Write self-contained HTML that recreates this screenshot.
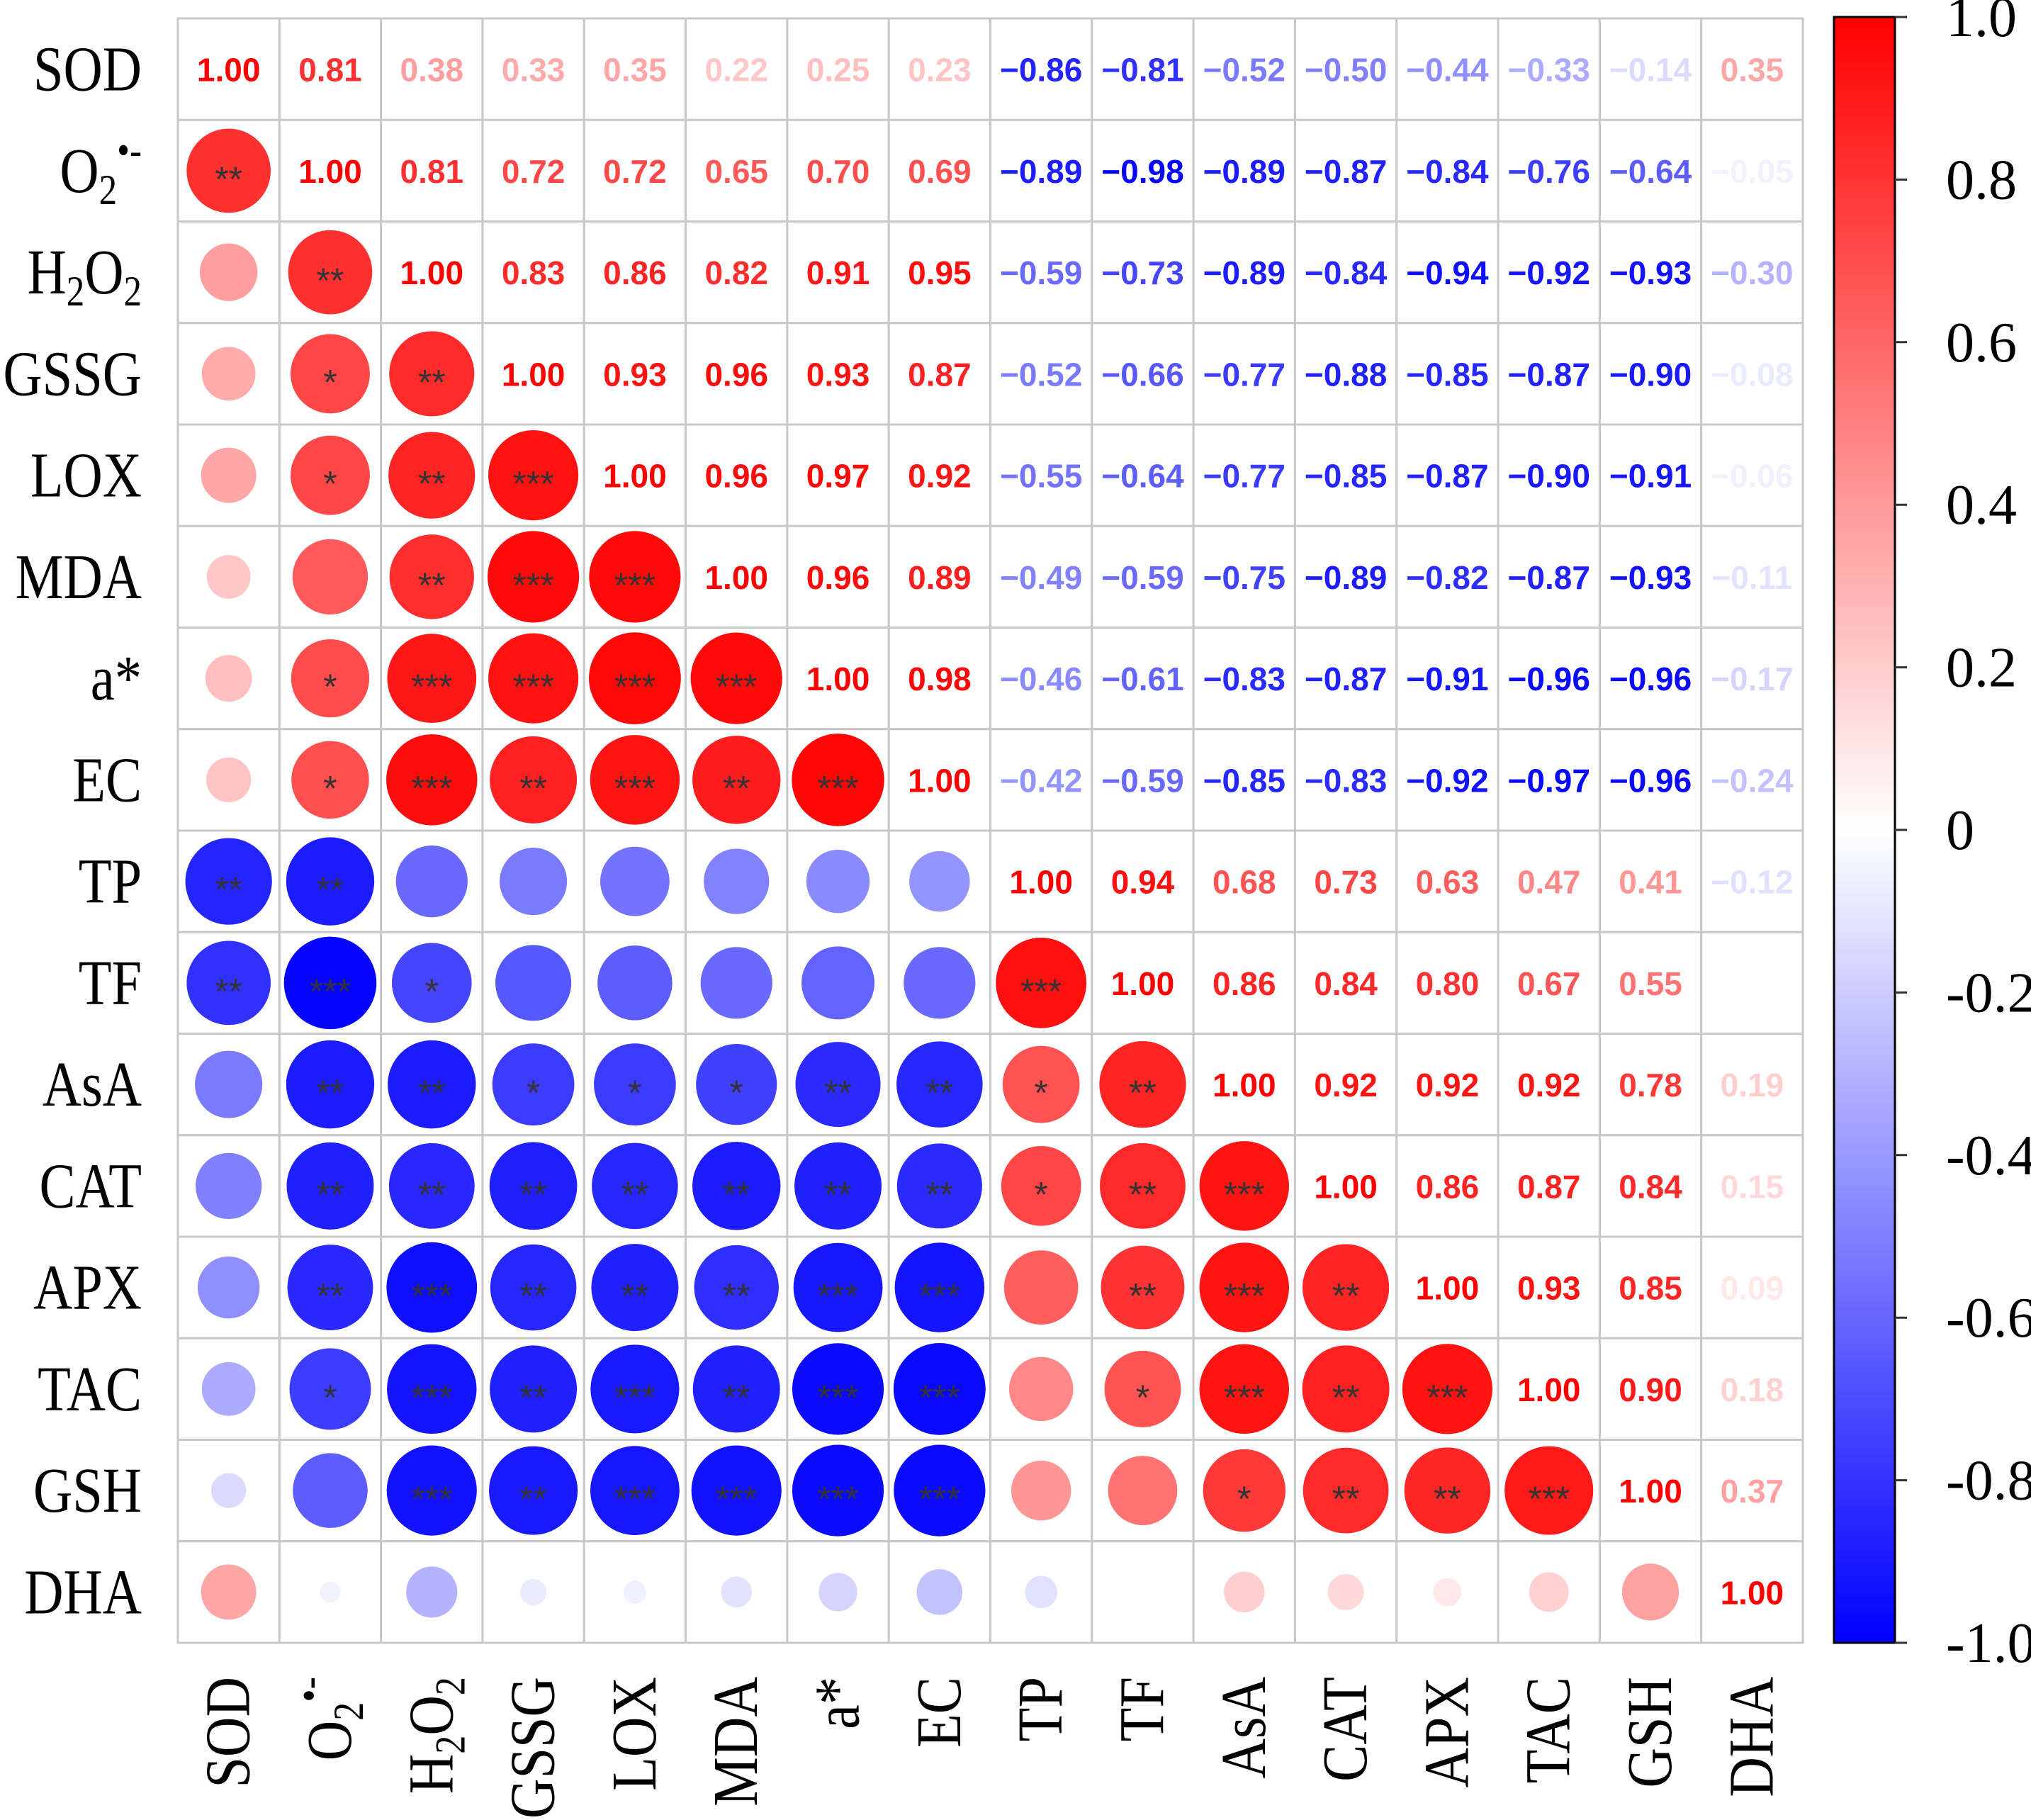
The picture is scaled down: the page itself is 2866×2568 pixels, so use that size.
<!DOCTYPE html>
<html><head><meta charset="utf-8"><style>
html,body{margin:0;padding:0;background:#fff;}
svg{display:block;}
</style></head><body>
<svg id="chart" width="2866" height="2568" viewBox="0 0 2866 2568" xmlns="http://www.w3.org/2000/svg">
<defs>
<linearGradient id="cbar" x1="0" y1="1" x2="0" y2="0">
<stop offset="0" stop-color="#0000ff"/><stop offset="0.5" stop-color="#ffffff"/><stop offset="1" stop-color="#ff0000"/>
</linearGradient>
</defs>
<g id="cells"></g>
<g id="rowlabels"></g>
<g id="collabels"></g>
<g id="legend"></g>
</svg>
<script>
const variables = ["SOD","O2","H2O2","GSSG","LOX","MDA","a*","EC","TP","TF","AsA","CAT","APX","TAC","GSH","DHA"];
const upperRows = [
 [0.81,0.38,0.33,0.35,0.22,0.25,0.23,-0.86,-0.81,-0.52,-0.50,-0.44,-0.33,-0.14,0.35],
 [0.81,0.72,0.72,0.65,0.70,0.69,-0.89,-0.98,-0.89,-0.87,-0.84,-0.76,-0.64,-0.05],
 [0.83,0.86,0.82,0.91,0.95,-0.59,-0.73,-0.89,-0.84,-0.94,-0.92,-0.93,-0.30],
 [0.93,0.96,0.93,0.87,-0.52,-0.66,-0.77,-0.88,-0.85,-0.87,-0.90,-0.08],
 [0.96,0.97,0.92,-0.55,-0.64,-0.77,-0.85,-0.87,-0.90,-0.91,-0.06],
 [0.96,0.89,-0.49,-0.59,-0.75,-0.89,-0.82,-0.87,-0.93,-0.11],
 [0.98,-0.46,-0.61,-0.83,-0.87,-0.91,-0.96,-0.96,-0.17],
 [-0.42,-0.59,-0.85,-0.83,-0.92,-0.97,-0.96,-0.24],
 [0.94,0.68,0.73,0.63,0.47,0.41,-0.12],
 [0.86,0.84,0.80,0.67,0.55,0.00],
 [0.92,0.92,0.92,0.78,0.19],
 [0.86,0.87,0.84,0.15],
 [0.93,0.85,0.09],
 [0.90,0.18],
 [0.37],
 []
];
const starRows = [
 [],
 ["**"],
 ["","**"],
 ["","*","**"],
 ["","*","**","***"],
 ["","","**","***","***"],
 ["","*","***","***","***","***"],
 ["","*","***","**","***","**","***"],
 ["**","**","","","","","",""],
 ["**","***","*","","","","","","***"],
 ["","**","**","*","*","*","**","**","*","**"],
 ["","**","**","**","**","**","**","**","*","**","***"],
 ["","**","***","**","**","**","***","***","","**","***","**"],
 ["","*","***","**","***","**","***","***","","*","***","**","***"],
 ["","","***","**","***","***","***","***","","","*","**","**","***"],
 ["","","","","","","","","","","","","","","",""]
];
const legendTicks = [1.0,0.8,0.6,0.4,0.2,0,-0.2,-0.4,-0.6,-0.8,-1.0];
const legendTickLabels = ["1.0","0.8","0.6","0.4","0.2","0","-0.2","-0.4","-0.6","-0.8","-1.0"];

const NS="http://www.w3.org/2000/svg";
const gx0=251, gx1=2544, gy0=26, gy1=2318, N=variables.length;
const cw=(gx1-gx0)/N, ch=(gy1-gy0)/N;
const xc=j=>gx0+(j+0.5)*cw, yc=i=>gy0+(i+0.5)*ch;
const cbX0=2588, cbX1=2674, cbY0=24, cbY1=2318;
const cbY=v=>cbY0+(1-v)/2*(cbY1-cbY0);
function corr(i,j){ if(i===j) return 1; if(i<j) return upperRows[i][j-i-1]; return upperRows[j][i-j-1]; }
function col(r){ const t=Math.min(1,Math.abs(r)); const w=Math.round(255*(1-t));
  return r>=0?`rgb(255,${w},${w})`:`rgb(${w},${w},255)`; }
function mk(tag,attrs,parent){ const e=document.createElementNS(NS,tag); for(const k in attrs) e.setAttribute(k,attrs[k]); parent.appendChild(e); return e; }

const cells=document.getElementById('cells');
for(let i=0;i<N;i++){
  for(let j=0;j<N;j++){
    const r=corr(i,j);
    const rect=mk('rect',{x:gx0+j*cw,y:gy0+i*ch,width:cw,height:ch,fill:'#fff',stroke:'#c8c8c8','stroke-width':3},cells);
    
    
    if(j>=i){
      const t=mk('text',{x:xc(j),y:yc(i)+17,'text-anchor':'middle','font-family':'Liberation Sans, sans-serif','font-weight':'bold','font-size':46,fill:col(r)},cells);
      t.textContent=(r<0?'\u2212'+Math.abs(r).toFixed(2):r.toFixed(2));
      
      
    } else {
      const rad=Math.sqrt(Math.abs(r))*0.46*cw;
      const c=mk('circle',{cx:xc(j),cy:yc(i),r:rad,fill:col(r)},cells);
      
      
      const s=starRows[i][j];
      if(s){
        const st=mk('text',{x:xc(j),y:yc(i)+29,'text-anchor':'middle','font-family':'Liberation Sans, sans-serif','font-size':50,fill:'#333'},cells);
        st.textContent=s;
        
        
      }
    }
  }
}
function labelContent(t,name){
  if(name==='O2'){ t.innerHTML='O<tspan font-size="60" dy="17">2</tspan><tspan font-size="60" dy="-56">•-</tspan>'; }
  else if(name==='H2O2'){ t.innerHTML='H<tspan font-size="60" dy="17">2</tspan><tspan dy="-17">O</tspan><tspan font-size="60" dy="17">2</tspan>'; }
  else t.textContent=name;
}
const rl=document.getElementById('rowlabels');
variables.forEach((v,i)=>{
  const t=mk('text',{transform:`translate(200,${yc(i)+30}) scale(0.85,1)`,x:0,y:0,'text-anchor':'end','font-family':'Liberation Serif, serif','font-size':90,fill:'#000'},rl);
  labelContent(t,v);
  
  
});
const cl=document.getElementById('collabels');
variables.forEach((v,j)=>{
  const t=mk('text',{transform:`translate(${xc(j)+29},2366) rotate(-90) scale(0.87,1)`,'text-anchor':'end','font-family':'Liberation Serif, serif','font-size':90,fill:'#000'},cl);
  labelContent(t,v);
  
  
});
const lg=document.getElementById('legend');
const bar=mk('rect',{x:cbX0,y:cbY0,width:cbX1-cbX0,height:cbY1-cbY0,fill:'url(#cbar)',stroke:'#000','stroke-width':3},lg);


legendTicks.forEach((v,k)=>{
  const y=cbY(v);
  const tk=mk('line',{x1:cbX1,x2:2691,y1:y,y2:y,stroke:'#333','stroke-width':3},lg);
  
  
  const t=mk('text',{x:2746,y:y+27,'font-family':'Liberation Serif, serif','font-size':80,fill:'#000'},lg);
  t.textContent=legendTickLabels[k];
  
  
});
</script>
</body></html>
